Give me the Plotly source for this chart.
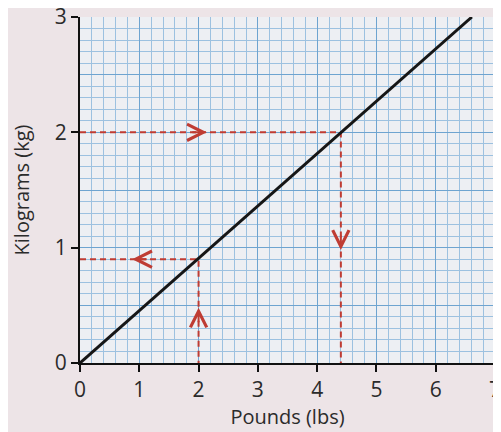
"""Pounds to kilograms conversion graph on blue graph paper."""

import plotly.graph_objects as go

# ── data ──────────────────────────────────────
pounds = [0, 6.61]
kilograms = [0, 3.0]

# worked examples: 2 kg -> 4.4 lb, 2 lb -> 0.9 kg
ex1_lb, ex1_kg = 4.4, 2.0
ex2_lb, ex2_kg = 2.0, 0.9

# arrow heads (x, y, direction) along the dashed guides
arrow_x = [2.14, 4.4, 0.88, 2.0]
arrow_y = [2.0, 0.98, 0.9, 0.48]
arrow_dir = ["right", "down", "left", "up"]

x_ticks = [0, 1, 2, 3, 4, 5, 6, 7]
y_ticks = [0, 1, 2, 3]

RED = "#bf3c33"
INK = "#2b2b2b"
GRID_MINOR = "#9cc1e0"
GRID_MAJOR = "#6ea4d0"

fig = go.Figure()

# invisible trace so the graph-paper axis gets drawn
fig.add_trace(go.Scatter(
    x=[0, 7], y=[0, 3], mode="markers", marker=dict(opacity=0),
    showlegend=False, hoverinfo="skip",
))

# dashed guide lines
fig.add_trace(go.Scatter(
    x=[0, ex1_lb, ex1_lb], y=[ex1_kg, ex1_kg, 0],
    mode="lines", line=dict(color=RED, width=2, dash="6px,4px"),
    yaxis="y2", showlegend=False, hoverinfo="skip",
))
fig.add_trace(go.Scatter(
    x=[0, ex2_lb, ex2_lb], y=[ex2_kg, ex2_kg, 0],
    mode="lines", line=dict(color=RED, width=2, dash="6px,4px"),
    yaxis="y2", showlegend=False, hoverinfo="skip",
))

# conversion line
fig.add_trace(go.Scatter(
    x=pounds, y=kilograms, mode="lines",
    line=dict(color="#161616", width=3),
    yaxis="y2", showlegend=False,
))

# chevron arrow heads
offsets = {"right": (-16, 0), "left": (16, 0), "up": (0, 16), "down": (0, -16)}
for ax_, ay_, d in zip(arrow_x, arrow_y, arrow_dir):
    dx, dy = offsets[d]
    fig.add_annotation(
        x=ax_, y=ay_, xref="x", yref="y2", text="", font=dict(size=1),
        showarrow=True, arrowhead=5, arrowsize=1.6, arrowwidth=2,
        arrowcolor=RED, ax=dx, ay=dy,
    )

# the page body adds an 8px offset, so margins are trimmed to suit
fig.update_layout(
    width=501, height=432,
    margin=dict(l=72, r=14, t=9, b=77),
    paper_bgcolor="#ede4e7",
    plot_bgcolor="#edeff3",
    font=dict(family="Open Sans, Lato, sans-serif", color=INK, size=19),
    xaxis=dict(
        range=[0, 7], tickvals=x_ticks, ticks="outside", ticklen=7,
        tickwidth=1.5, tickcolor="#111", showline=True, linecolor="#111",
        linewidth=2, showgrid=True, gridcolor=GRID_MAJOR, gridwidth=1.3,
        minor=dict(dtick=0.2, showgrid=True, gridcolor=GRID_MINOR, gridwidth=1),
        zeroline=False, tickfont=dict(size=21), automargin=False,
        ticklabeloverflow="allow",
        title=dict(text="Pounds (lbs)", font=dict(size=20), standoff=0),
    ),
    # base axis: only the graph-paper grid
    yaxis=dict(
        range=[0, 3], dtick=0.5, showticklabels=False, ticks="",
        showgrid=True, gridcolor=GRID_MAJOR, gridwidth=1.3,
        minor=dict(dtick=0.1, showgrid=True, gridcolor=GRID_MINOR, gridwidth=1),
        zeroline=False, automargin=False,
    ),
    # overlay axis: labels, ticks and the drawn marks
    yaxis2=dict(
        overlaying="y", side="left", range=[0, 3], tickvals=y_ticks,
        ticks="outside", ticklen=7, tickwidth=1.5, tickcolor="#111",
        showline=True, linecolor="#111", linewidth=2,
        showgrid=False, zeroline=False, tickfont=dict(size=21),
        automargin=False, ticklabeloverflow="allow",
        title=dict(text="Kilograms (kg)", font=dict(size=20), standoff=21),
    ),
)

fig.write_html("out.html")
